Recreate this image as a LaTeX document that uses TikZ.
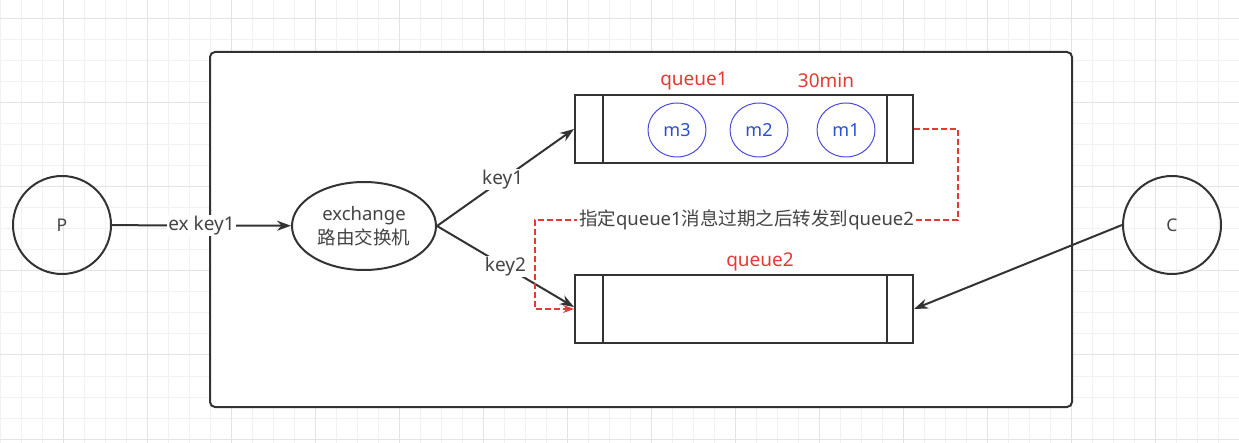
\documentclass[tikz,border=0pt]{standalone}
\usepackage{fontspec}
\setmainfont{Noto Sans}
\newfontfamily\cjk{Noto Sans CJK SC}
\usetikzlibrary{arrows.meta,shapes.geometric,calc}
\definecolor{ink}{HTML}{333333}
\definecolor{txt}{HTML}{444444}
\definecolor{qred}{HTML}{E53935}
\definecolor{mblue}{HTML}{4B4BE0}
\definecolor{mtxt}{HTML}{2B4FCF}
\definecolor{gminor}{HTML}{F1F1F1}
\definecolor{gmajor}{HTML}{E3E3E3}
\tikzset{
  blk/.style={draw=ink,line width=2pt},
  circnode/.style={blk,circle,minimum size=98pt,inner sep=0pt,font=\fontsize{17.5}{20}\selectfont,text=txt},
  exnode/.style={blk,ellipse,minimum width=144pt,minimum height=88pt,inner sep=0pt,align=center,font=\fontsize{18.5}{24}\selectfont,text=txt},
  queuebox/.style={blk,rectangle,minimum width=338pt,minimum height=68pt,inner sep=0pt},
  msg/.style={draw=mblue,line width=1pt,ellipse,minimum width=58pt,minimum height=54pt,inner sep=0pt,text=mtxt,font=\fontsize{18}{20}\selectfont},
  qlbl/.style={text=qred,font=\fontsize{19}{22}\selectfont,inner sep=1pt},
  elbl/.style={fill=white,text=txt,font=\fontsize{19}{22}\selectfont,inner sep=1pt},
  arr/.style={blk,-{Stealth[length=14pt,width=10pt]}},
  reddash/.style={draw=qred,line width=1.2pt,dash pattern=on 6pt off 3pt,-{Stealth[length=11pt,width=8pt,fill=qred]}},
}
\begin{document}
\begin{tikzpicture}[x=1pt,y=-1pt]
\useasboundingbox (0,0) rectangle (1239,443);
% grid background
\foreach \x in {0,21,...,1239} {\draw[gminor,line width=1pt] (\x,0) -- (\x,443);}
\foreach \y in {19,40,...,443} {\draw[gminor,line width=1pt] (0,\y) -- (1239,\y);}
\foreach \x in {63,147,...,1239} {\draw[gmajor,line width=1pt] (\x,0) -- (\x,443);}
\foreach \y in {19,103,...,443} {\draw[gmajor,line width=1pt] (0,\y) -- (1239,\y);}
% container
\node[blk,fill=white,rounded corners=5pt,minimum width=862pt,minimum height=355pt,inner sep=0pt] (box) at (641,229.5) {};
% nodes
\node[circnode] (P) at (62,225) {P};
\node[circnode] (C) at (1172,225) {C};
\node[exnode] (ex) at (364,226) {exchange\\{\cjk 路由交换机}};
\node[queuebox] (q1) at (744,129) {};
\node[queuebox] (q2) at (744,309) {};
\draw[blk] (603,95) -- (603,163) (887,95) -- (887,163);
\draw[blk] (603,275) -- (603,343) (887,275) -- (887,343);
\node[msg] (m3) at (677,130) {m3};
\node[msg] (m2) at (759,130) {m2};
\node[msg] (m1) at (846,130) {m1};
\node[qlbl] (q1l) at (694,81) {queue1};
\node[qlbl] (tl) at (826,81) {30min};
\node[qlbl] (q2l) at (760,262) {queue2};
% connectors
\draw[arr] (P) -- node[elbl] {ex key1} (ex);
\draw[arr] (ex.east) -- node[elbl,pos=0.48] {key1} (q1.west);
\draw[arr] (ex.east) -- node[elbl,pos=0.5] {key2} ($(q2.west)+(0,-2)$);
\draw[arr] (C.west) -- (q2.east);
\coordinate (r1) at (958,129);
\coordinate (r2) at (958,220);
\coordinate (r3) at (535,220);
\coordinate (r4) at (535,309);
\draw[reddash] (q1.east) -- (r1) -- (r2) -- node[fill=white,text=txt,font=\fontsize{18.5}{21}\selectfont,inner sep=2pt] {{\cjk 指定}queue1{\cjk 消息过期之后转发到}queue2} (r3) -- (r4) -- (q2.west);
\end{tikzpicture}
\end{document}
